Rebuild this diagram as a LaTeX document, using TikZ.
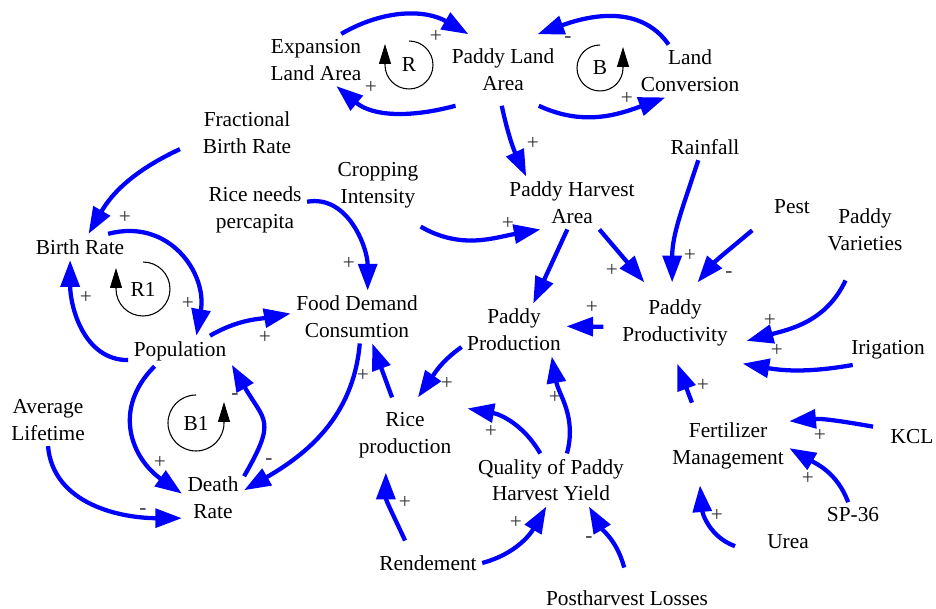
\documentclass[tikz,border=0pt]{standalone}
\usepackage{fontspec}
\setmainfont{Liberation Serif}
\usetikzlibrary{arrows.meta}

\begin{document}
\begin{tikzpicture}
  [x=0.75pt,y=0.75pt,
   varNode/.style={align=center,font=\fontsize{16}{20}\selectfont,inner sep=4pt},
   causalArrow/.style={draw=blue,line width=3.2pt,-{Triangle[length=20pt,width=14pt]}},
   loopArrow/.style={draw=black,line width=0.8pt,-{Triangle[length=15pt,width=9pt]}},
   loopLabel/.style={font=\fontsize{16}{20}\selectfont,inner sep=0pt},
   polSign/.style={font=\fontsize{16}{16}\selectfont,text=black!80,inner sep=0pt}]
  \useasboundingbox (0,0) rectangle (936,609);

  % variables
  \node[varNode] (ela) at (316,549) {Expansion\\Land Area};
  \node[varNode,inner ysep=11pt] (pla) at (503,539) {Paddy Land\\Area};
  \node[varNode] (lc) at (690,538) {Land\\Conversion};
  \node[varNode] (fbr) at (247,476) {Fractional\\Birth Rate};
  \node[varNode] (rnp) at (255,399) {Rice needs\\percapita};
  \node[varNode] (ci) at (378,424) {Cropping\\Intensity};
  \node[varNode] (pha) at (572,406) {Paddy Harvest\\Area};
  \node[varNode] (rain) at (705,462) {Rainfall};
  \node[varNode] (pest) at (792,402) {Pest};
  \node[varNode] (pv) at (865,379) {Paddy\\Varieties};
  \node[varNode] (br) at (80,362) {Birth Rate};
  \node[varNode] (fdc) at (357,292) {Food Demand\\Consumtion};
  \node[varNode] (pp) at (514,279) {Paddy\\Production};
  \node[varNode,inner xsep=14pt,inner ysep=13pt] (pprod) at (675,286) {Paddy\\Productivity};
  \node[varNode] (irig) at (888,259) {Irigation};
  \node[varNode] (pop) at (180,258) {Population};
  \node[varNode] (alt) at (48,189) {Average\\Lifetime};
  \node[varNode,inner xsep=12pt,inner ysep=11pt] (rice) at (405,174) {Rice\\production};
  \node[varNode] (qual) at (551,129) {Quality of Paddy\\Harvest Yield};
  \node[varNode] (fm) at (728,163) {Fertilizer\\Management};
  \node[varNode] (kcl) at (912,172) {KCL};
  \node[varNode] (dr) at (213,111) {Death\\Rate};
  \node[varNode] (sp) at (853,94) {SP-36};
  \node[varNode] (urea) at (788,67) {Urea};
  \node[varNode] (ren) at (428,46) {Rendement};
  \node[varNode] (phl) at (627,11) {Postharvest Losses};

  % loop markers
  \node[loopLabel] (lpR) at (409,544) {R};
  \draw[loopArrow] ([yshift=18pt]lpR.center) arc[start angle=90,end angle=-180,radius=18pt] -- ++(0,21);
  \node[loopLabel] (lpB) at (600,541) {B};
  \draw[loopArrow] ([yshift=17.25pt]lpB.center) arc[start angle=90,end angle=360,radius=17.25pt] -- ++(0,21);
  \node[loopLabel] (lpR1) at (143,320) {R1};
  \draw[loopArrow] ([yshift=20.25pt]lpR1.center) arc[start angle=90,end angle=-180,radius=20.25pt] -- ++(0,21);
  \node[loopLabel] (lpB1) at (196,186) {B1};
  \draw[loopArrow] ([yshift=21pt]lpB1.center) arc[start angle=90,end angle=360,radius=21pt] -- ++(0,21);

  % causal links
  \draw[causalArrow] (ela.46) to[out=30,in=150] (pla.134);
  \draw[causalArrow] (pla.217.6) to[out=195,in=-40] (ela.-52);
  \draw[causalArrow] (lc.129) to[out=125,in=20] (pla.46.6);
  \draw[causalArrow] (pla.-45) to[out=-25,in=200] (lc.227);
  \draw[causalArrow] (pla.268) to[out=-78,in=115] (pha.150);
  \draw[causalArrow] ([xshift=-13pt]fbr.198) to[out=205,in=60] (br.57);
  \draw[causalArrow] (br.25) to[out=15,in=80,looseness=1.2] (pop.43);
  \draw[causalArrow] (pop.190) to[out=180,in=-90] (br.233);
  \draw[causalArrow] (pop.27) to[out=30,in=190] (fdc.177);
  \draw[causalArrow] (pop.211) to[out=225,in=145,looseness=1.2] (dr.172);
  \draw[causalArrow] (dr.35.5) to[out=60,in=-60,looseness=1.5] (pop.-15.6);
  \draw[causalArrow] (alt.270) to[out=-85,in=180] (dr.213);
  \draw[causalArrow] (fdc.276) to[out=-95,in=30] (dr.14);
  \draw[causalArrow] (rnp.9) to[out=10,in=90] (fdc.68);
  \draw[causalArrow] ([xshift=10pt,yshift=-10pt]ci.-44) to[out=-30,in=190] (pha.220);
  \draw[causalArrow] (pha.260) -- (pp.54);
  \draw[causalArrow] (pha.-44) -- (pprod.127);
  \draw[causalArrow] (pprod.183) -- (pp.4);
  \draw[causalArrow] (rain.243) to[out=-108,in=90] (pprod.94);
  \draw[causalArrow] ([xshift=-14pt,yshift=-8pt]pest.211) to[out=-140,in=50] (pprod.61);
  \draw[causalArrow] ([xshift=-7pt,yshift=-18pt]pv.249) to[out=-115,in=15] (pprod.-14);
  \draw[causalArrow] (irig.203) to[out=190,in=-10] (pprod.-31.6);
  \draw[causalArrow] ([xshift=-9pt,yshift=11pt]fm.130) -- (pprod.-87);
  \draw[causalArrow] (rice.109) -- (fdc.-60);
  \draw[causalArrow] (pp.198) to[out=215,in=55] (rice.71);
  \draw[causalArrow] (qual.112) to[out=120,in=-10] (rice.23.5);
  \draw[causalArrow] (qual.59) to[out=75,in=-80] (pp.-35.6);
  \draw[causalArrow] ([xshift=-7pt,yshift=7pt]ren.136) to[out=115,in=-90] (rice.243);
  \draw[causalArrow] (ren.0) to[out=15,in=-120] (qual.260);
  \draw[causalArrow] ([yshift=13pt]phl.102) to[out=105,in=-60] (qual.-35);
  \draw[causalArrow] ([xshift=-9pt]kcl.159) to[out=170,in=5] (fm.22.7);
  \draw[causalArrow] (sp.111) to[out=110,in=-30] (fm.-2);
  \draw[causalArrow] ([xshift=-20pt]urea.189) to[out=160,in=-85] ([xshift=-6pt,yshift=-8pt]fm.235);

  % link polarities
  \foreach \sx/\sy/\sg [count=\i] in {436/573/+,371/522/+,568/569/-,627/511/+,533/466/+,
      125/392/+,188/306/+,86/312/+,265/272/+,160/147/+,235/212/-,269/147/-,143/97/-,
      349/346/+,508/386/+,612/339/+,592/302/+,690/354/+,729/334/-,770/289/+,777/259/+,
      703/224/+,363/234/+,447/226/+,491/178/+,555/212/+,405/107/+,516/87/+,589/69/-,
      820/174/+,808/131/+,717/94/+}
    \node[polSign] (sgn\i) at (\sx,\sy) {\sg};
\end{tikzpicture}
\end{document}
